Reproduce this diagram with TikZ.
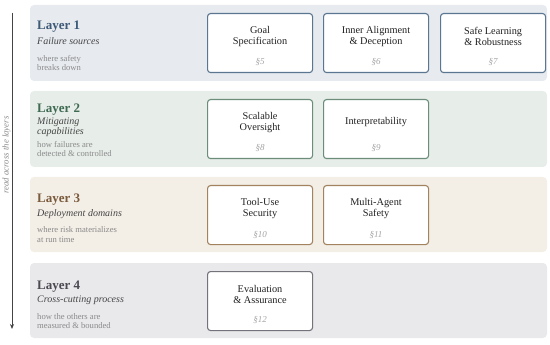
\documentclass[tikz,border=0pt]{standalone}
\usepackage{fontspec}
\setmainfont{Liberation Serif}
\usetikzlibrary{arrows.meta}
\definecolor{fillA}{HTML}{E7EAEF}\definecolor{titA}{HTML}{3E5A78}\definecolor{bdA}{HTML}{5B7691}
\definecolor{fillB}{HTML}{E7EDE9}\definecolor{titB}{HTML}{3F6A52}\definecolor{bdB}{HTML}{6B8D79}
\definecolor{fillC}{HTML}{F3EEE6}\definecolor{titC}{HTML}{7A5A3C}\definecolor{bdC}{HTML}{A3835F}
\definecolor{fillD}{HTML}{E9E9EC}\definecolor{titD}{HTML}{4A4A50}\definecolor{bdD}{HTML}{73737B}
\definecolor{grayT}{HTML}{8A8A8A}\definecolor{secT}{HTML}{A5A5A5}\definecolor{arr}{HTML}{444444}
\definecolor{subT}{HTML}{454545}\definecolor{boxT}{HTML}{222222}
\begin{document}
\begin{tikzpicture}[x=1pt,y=-1pt,
  band/.style={rounded corners=4pt},
  ltitle/.style={anchor=base west,inner sep=0pt,font=\fontsize{13}{14}\selectfont\bfseries},
  lsub/.style={anchor=base west,inner sep=0pt,text=subT,font=\fontsize{10}{10}\selectfont\itshape},
  lnote/.style={anchor=base west,inner sep=0pt,text=grayT,font=\fontsize{8.6}{9}\selectfont},
  secbox/.style={draw,fill=white,rounded corners=3pt,line width=1.1pt,minimum width=105pt,minimum height=59pt,anchor=north west},
  btext/.style={align=center,inner sep=0pt,text=boxT,font=\fontsize{10.3}{11}\selectfont},
  snum/.style={anchor=base,inner sep=0pt,text=secT,font=\fontsize{9}{9}\selectfont\itshape}
]
\useasboundingbox (0,0) rectangle (550,345);
% bands
\fill[fillA,band] (30,5) rectangle (547,81);
\fill[fillB,band] (30,91) rectangle (547,167);
\fill[fillC,band] (30,177) rectangle (547,252);
\fill[fillD,band] (30,263) rectangle (547,338);
% arrow
\coordinate (as) at (12,13);
\coordinate (ae) at (12,329);
\draw[arr,line width=1pt,-{Stealth[length=5pt,width=4pt]}] (as) -- (ae);
\node[rotate=90,text=grayT,font=\fontsize{8.8}{9}\selectfont\itshape,inner sep=0pt] (rl) at (6.5,155) {read across the layers};
% layer 1
\node[ltitle,text=titA] (t1) at (37,30) {Layer 1};
\node[lsub] (s1) at (37,45) {Failure sources};
\node[lnote] (n1a) at (37,62) {where safety};
\node[lnote] (n1b) at (37,71) {breaks down};
% layer 2
\node[ltitle,text=titB] (t2) at (37,113) {Layer 2};
\node[lsub] (s2a) at (37,125) {Mitigating};
\node[lsub] (s2b) at (37,135) {capabilities};
\node[lnote] (n2a) at (37,148) {how failures are};
\node[lnote] (n2b) at (37,157) {detected \& controlled};
% layer 3
\node[ltitle,text=titC] (t3) at (37,203) {Layer 3};
\node[lsub] (s3) at (37,216) {Deployment domains};
\node[lnote] (n3a) at (37,233) {where risk materializes};
\node[lnote] (n3b) at (37,242) {at run time};
% layer 4
\node[ltitle,text=titD] (t4) at (37,289) {Layer 4};
\node[lsub] (s4) at (37,302) {Cross-cutting process};
\node[lnote] (n4a) at (37,319) {how the others are};
\node[lnote] (n4b) at (37,328) {measured \& bounded};
% boxes layer 1
\node[secbox,draw=bdA] (b5) at (207,13) {};
\node[btext] at ([yshift=-23.5pt]b5.north) {Goal\\Specification};
\node[snum] at ([yshift=-52pt]b5.north) {§5};
\node[secbox,draw=bdA] (b6) at (323,13) {};
\node[btext] at ([yshift=-23.5pt]b6.north) {Inner Alignment\\\& Deception};
\node[snum] at ([yshift=-52pt]b6.north) {§6};
\node[secbox,draw=bdA] (b7) at (440,13) {};
\node[btext] at ([yshift=-23.5pt]b7.north) {Safe Learning\\\& Robustness};
\node[snum] at ([yshift=-52pt]b7.north) {§7};
% layer 2
\node[secbox,draw=bdB] (b8) at (207,99) {};
\node[btext] at ([yshift=-23.5pt]b8.north) {Scalable\\Oversight};
\node[snum] at ([yshift=-52pt]b8.north) {§8};
\node[secbox,draw=bdB] (b9) at (323,99) {};
\node[btext] at ([yshift=-23.5pt]b9.north) {Interpretability};
\node[snum] at ([yshift=-52pt]b9.north) {§9};
% layer 3
\node[secbox,draw=bdC] (b10) at (207,185) {};
\node[btext] at ([yshift=-23.5pt]b10.north) {Tool-Use\\Security};
\node[snum] at ([yshift=-52pt]b10.north) {§10};
\node[secbox,draw=bdC] (b11) at (323,185) {};
\node[btext] at ([yshift=-23.5pt]b11.north) {Multi-Agent\\Safety};
\node[snum] at ([yshift=-52pt]b11.north) {§11};
% layer 4
\node[secbox,draw=bdD] (b12) at (207,271) {};
\node[btext] at ([yshift=-23.5pt]b12.north) {Evaluation\\\& Assurance};
\node[snum] at ([yshift=-52pt]b12.north) {§12};
\end{tikzpicture}
\end{document}
